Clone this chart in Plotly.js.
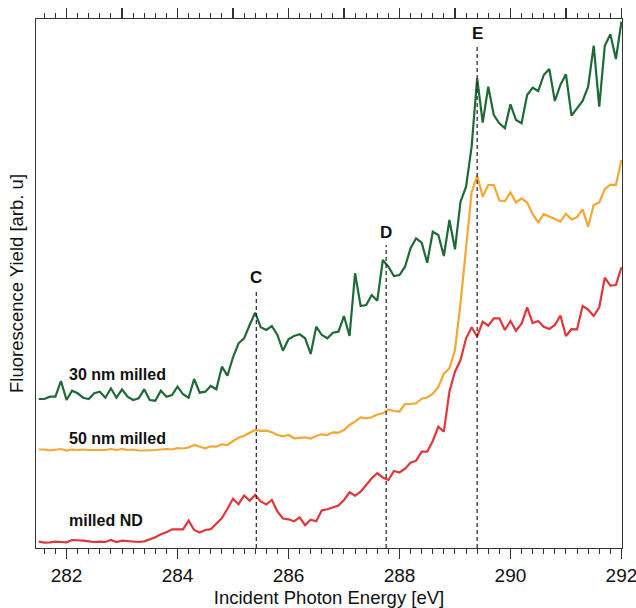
<!DOCTYPE html>
<html>
<head>
<meta charset="utf-8">
<script src="https://cdn.plot.ly/plotly-3.0.1.min.js"></script>
<style>html,body{margin:0;padding:0;background:#fff;}#chart{width:636px;height:608px;}</style>
</head>
<body>
<div id="chart"></div>
<script>
// Incident photon energy [eV]
var energy = [281.5,281.6,281.7,281.8,281.9,282.0,282.1,282.2,282.3,282.4,282.5,282.6,282.7,282.8,282.9,
  283.0,283.1,283.2,283.3,283.4,283.5,283.6,283.7,283.8,283.9,284.0,284.1,284.2,284.3,284.4,284.5,284.6,284.7,284.8,284.9,
  285.0,285.1,285.2,285.3,285.4,285.5,285.6,285.7,285.8,285.9,286.0,286.1,286.2,286.3,286.4,286.5,286.6,286.7,286.8,286.9,
  287.0,287.1,287.2,287.3,287.4,287.5,287.6,287.7,287.8,287.9,288.0,288.1,288.2,288.3,288.4,288.5,288.6,288.7,288.8,288.9,
  289.0,289.1,289.2,289.3,289.4,289.5,289.6,289.7,289.8,289.9,290.0,290.1,290.2,290.3,290.4,290.5,290.6,290.7,290.8,290.9,
  291.0,291.1,291.2,291.3,291.4,291.5,291.6,291.7,291.8,291.9,292.0];

// Fluorescence yield (arb. u, offset stacked)
var milled30 = [149,149,151.3,151.3,167,148,157.3,154.7,150.3,149,154.7,156.3,150.3,159.7,150.3,
  158.7,151.3,148,149.7,158.7,148,147.3,157.3,151.3,153,161.3,153.7,150.3,169,155.3,156.3,162,158.7,181.3,172.3,
  190.7,204.7,209.7,223,235.3,220.7,218,222,213,197.3,208.7,212,213.7,209.7,194,221.3,213,209.7,215.3,216.3,
  232,212,274.7,242,243,253,247.3,288,281.3,272,273,281.3,299.7,309.7,305.3,285.3,316.3,313,292,328,
  298.7,346.3,361.3,401.3,469.7,425.3,461.3,433,424.7,419.7,443.7,428,424.7,453,460.3,457,473,479,447,463,
  473.7,432.3,440.3,447,461.3,502.3,441.3,502.3,513.7,489,526.3];

var milled50 = [98.5,98.5,97.5,98,99,97.5,98.5,98,98.5,98,98,98.5,98,99,98,
  99,98,98.5,97.5,97.5,97.5,98,98.5,99,98.5,100,99.5,100.5,103,101.5,99.7,101.7,101.3,103.7,103,
  107,110.2,112.2,115.5,118,117.2,117.3,115.8,113,111.7,113,109.7,110,110.7,109.4,112,113.7,113,115.7,115.3,
  118,123,126.3,130.7,129.7,130.7,133.5,134.7,138.5,137,136.5,144,144,144.7,149.3,150.5,154.2,161,174.3,179.7,
  198,245,300,355.5,372.5,351.3,363,363,347.5,347,355.7,345.5,349.7,345.5,334,325.7,333.8,331.7,329,326.3,
  334.3,328.5,330.8,338.7,321.3,343,345.5,358.8,363.3,363,388];

var milledND = [6.3,5.3,5.7,6.3,6,5.7,8,7.3,7.3,6.7,6,6.3,6,8,6,
  7.3,6.7,6.3,6,6.7,8.7,10.7,13.7,15.7,18.7,18.7,18.7,27.3,18,15.5,18,18.8,24.3,30,39.2,
  49.2,43.8,52.5,47.3,53,46.5,43.5,48,36.5,29.5,28.7,26.7,30.7,22.7,28.3,26.7,37.7,38.7,40.5,42.5,
  48,55.7,52.3,56.3,63,69.7,74.7,70.5,68,77,75.5,79.3,85.3,87.3,96.3,96.3,107,121.3,116.3,156.5,
  176.3,188,209.7,220.7,211.5,226.3,222.3,229.7,229.7,218,227,217.2,224.3,240.7,225,227,221.3,219,223,232.5,
  212,218.8,218.7,242,238.3,232,240.7,270.3,262.3,263,280.7];

var seriesNames = ['30 nm milled', '50 nm milled', 'milled ND'];
var labelY = [174, 110, 28];

// Feature markers
var featureE = [285.42, 287.76, 289.40];
var featureLabels = ['C', 'D', 'E'];
var featureTop = [258, 303, 503];
var featureLabelY = [271, 316, 515];

var colors = ['#1e6a37', '#f4a733', '#e0373a'];
var seriesData = [milled30, milled50, milledND];

var traces = seriesData.map(function(v, i) {
  return {x: energy, y: v, type: 'scatter', mode: 'lines', name: seriesNames[i],
    line: {color: colors[i], width: 2.2}, hoverinfo: 'skip'};
});
// dummy trace for top axis
traces.push({x: [281.5, 292], y: [0, 0], xaxis: 'x2', yaxis: 'y', mode: 'lines',
  line: {width: 0}, showlegend: false, hoverinfo: 'skip'});

var shapes = featureE.map(function(e, i) {
  return {type: 'line', xref: 'x', yref: 'y', x0: e, x1: e, y0: 0, y1: featureTop[i],
    line: {color: '#222', width: 1.2, dash: '4px,3px'}};
});

var fam = 'Liberation Sans, Arial, sans-serif';
var annotations = [];
seriesNames.forEach(function(n, i) {
  annotations.push({x: 282.0, y: labelY[i], xref: 'x', yref: 'y', text: '<b>' + n + '</b>',
    showarrow: false, xanchor: 'left', yanchor: 'middle',
    font: {family: fam, size: 16, color: '#111'}});
});
featureLabels.forEach(function(t, i) {
  annotations.push({x: featureE[i], y: featureLabelY[i], xref: 'x', yref: 'y', text: '<b>' + t + '</b>',
    showarrow: false, xanchor: 'center', yanchor: 'middle',
    font: {family: fam, size: 17, color: '#111'}});
});

var layout = {
  width: 636, height: 608,
  margin: {l: 36, r: 14, t: 19, b: 60},
  paper_bgcolor: '#fff', plot_bgcolor: '#fff',
  showlegend: false,
  font: {family: fam, size: 18, color: '#111'},
  xaxis: {
    range: [281.45, 292.01], showgrid: false, zeroline: false,
    showline: true, linecolor: '#333', linewidth: 1.3,
    ticks: 'outside', ticklen: 10, tickwidth: 1.2, tickcolor: '#333',
    tick0: 282, dtick: 2, tickfont: {family: fam, size: 19, color: '#111'},
    ticklabeloverflow: 'allow',
    minor: {dtick: 0.2, tick0: 282, ticks: 'outside', ticklen: 5, tickwidth: 1, tickcolor: '#333', showgrid: false},
    title: {text: 'Incident Photon Energy [eV]', font: {family: fam, size: 18.5, color: '#111'}, standoff: 6}
  },
  xaxis2: {
    overlaying: 'x', side: 'top', matches: 'x', range: [281.45, 292.01],
    showgrid: false, zeroline: false, showline: true, linecolor: '#333', linewidth: 1.3,
    ticks: 'outside', ticklen: 10, tickwidth: 1.2, tickcolor: '#333',
    tick0: 282, dtick: 1, showticklabels: false,
    minor: {dtick: 0.2, tick0: 282, ticks: 'outside', ticklen: 5, tickwidth: 1, tickcolor: '#333', showgrid: false}
  },
  yaxis: {
    range: [0, 529], showgrid: false, zeroline: false,
    showline: true, mirror: true, linecolor: '#333', linewidth: 1.3,
    ticks: '', showticklabels: false,
    title: {text: 'Fluorescence Yield [arb. u]', font: {family: fam, size: 18.5, color: '#111'}, standoff: 6}
  },
  shapes: shapes,
  annotations: annotations
};

Plotly.newPlot('chart', traces, layout, {displayModeBar: false, staticPlot: true});
</script>
</body>
</html>
